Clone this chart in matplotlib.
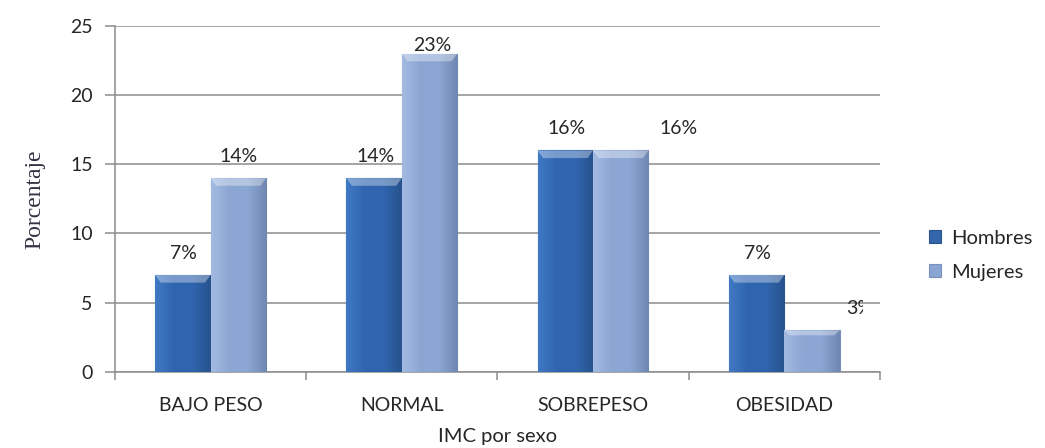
import matplotlib.pyplot as plt
import matplotlib.colors as mcolors
from matplotlib.transforms import Bbox
import numpy as np

categorias = ["BAJO PESO", "NORMAL", "SOBREPESO", "OBESIDAD"]
hombres = [7, 14, 16, 7]
mujeres = [14, 23, 16, 3]
etiquetas_h = ["7%", "14%", "16%", "7%"]
etiquetas_m = ["14%", "23%", "16%", "3%"]

plt.rcParams['font.family'] = ['Lato', 'DejaVu Sans']
txt = '#262626'

fig = plt.figure(figsize=(10.45, 4.48), dpi=100)
ax = fig.add_axes([0.110, 0.170, 0.732, 0.772])

x = np.arange(len(categorias))
w = 0.29


def gradiente(bar, c_izq, c_centro, c_der, c_borde):
    # Excel-like bevel: horizontal gradient plus lighter top strip
    x0, y0 = bar.get_x(), bar.get_y()
    bw, bh = bar.get_width(), bar.get_height()
    cmap = mcolors.LinearSegmentedColormap.from_list(
        'g', [c_izq, c_centro, c_centro, c_der])
    grad = np.linspace(0, 1, 64).reshape(1, -1)
    im = ax.imshow(grad, cmap=cmap, extent=[x0, x0 + bw, y0, y0 + bh],
                   aspect='auto', zorder=3, origin='lower')
    im.set_clip_path(bar)
    tope = min(0.55, bh * 0.12)
    ax.fill([x0, x0 + bw, x0 + bw * 0.9, x0 + bw * 0.1],
            [y0 + bh, y0 + bh, y0 + bh - tope, y0 + bh - tope],
            color=mcolors.to_rgba('white', 0.35), lw=0, zorder=4)
    bar.set_edgecolor(c_borde)
    bar.set_linewidth(0.8)


bh = ax.bar(x - w / 2, hombres, w, color='#3366AA', label='Hombres', zorder=2)
bm = ax.bar(x + w / 2, mujeres, w, color='#8AA5D3', label='Mujeres', zorder=2)
for b in bh:
    gradiente(b, '#4079C4', '#3065AE', '#27538E', '#2A5490')
for b in bm:
    gradiente(b, '#A3BBE2', '#8CA6D3', '#6F88B2', '#7890BA')

# data labels (Mujeres labels drift right as in the source)
desp_m = [(0, 22), (3, 8), (58, 22), (48, 22)]
for i, b in enumerate(bh):
    ax.annotate(etiquetas_h[i], (b.get_x() + b.get_width() / 2, hombres[i]),
                xytext=(1, 22), textcoords='offset pixels', ha='center',
                va='center', fontsize=14, color=txt, zorder=6)
for i, b in enumerate(bm):
    t = ax.annotate(etiquetas_m[i], (b.get_x() + b.get_width() / 2, mujeres[i]),
                    xytext=desp_m[i], textcoords='offset pixels', ha='center',
                    va='center', fontsize=14, color=txt, zorder=6,
                    annotation_clip=False)
    # the source cuts the last label short
    t.set_clip_box(Bbox([[0, 0], [863, 448]]))
    t.set_clip_on(True)

ax.set_xlim(-0.5, len(categorias) - 0.5)
ax.set_ylim(0, 25)
ax.set_yticks(range(0, 26, 5))
ax.yaxis.grid(True, color='#8C8C8C', lw=1.1)
ax.set_axisbelow(True)
ax.set_xticks(x)
ax.set_xticklabels(categorias, fontsize=14, color=txt)
ax.set_xticks(np.arange(-0.5, len(categorias)), minor=True)
ax.tick_params(axis='x', which='major', length=0, pad=18)
ax.tick_params(axis='x', which='minor', length=6, color='#8C8C8C', width=1.1)
ax.tick_params(axis='y', length=7, color='#8C8C8C', width=1.1,
               labelsize=14, labelcolor=txt, pad=9)
for s in ['top', 'right']:
    ax.spines[s].set_visible(False)
for s in ['left', 'bottom']:
    ax.spines[s].set_color('#8C8C8C')
    ax.spines[s].set_linewidth(1.1)

ax.set_xlabel('IMC por sexo', fontsize=14.5, color=txt, labelpad=10)
ax.set_ylabel('Porcentaje', fontsize=17, color='#333344',
              family='Liberation Serif', labelpad=18)

fig.legend(handles=[bh, bm], loc='center left', bbox_to_anchor=(0.872, 0.43),
           frameon=False, fontsize=14.5, handlelength=0.6, handleheight=0.6,
           handletextpad=0.5, labelspacing=0.85, labelcolor=txt)

fig.savefig('out.png', dpi=100)
